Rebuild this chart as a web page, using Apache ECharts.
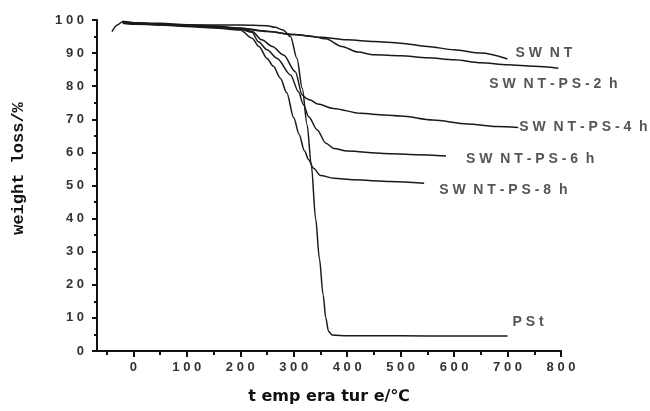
<!DOCTYPE html>
<html>
<head>
<meta charset="utf-8">
<script src="https://cdn.jsdelivr.net/npm/echarts@6/dist/echarts.min.js"></script>
<style>html,body{margin:0;padding:0;background:#fff}#c{width:650px;height:411px}</style>
</head>
<body>
<div id="c"></div>
<script>
// ---- data (temperature in °C, weight %) ----
const swntT  = [-40, -30, -20, 0, 50, 100, 150, 200, 250, 300, 350, 400, 450, 500, 550, 600, 650, 700];
const swntW  = [96.5, 98.5, 99.5, 99.2, 99.0, 98.6, 98.2, 97.6, 96.6, 95.6, 94.8, 94.0, 93.5, 93.0, 92.0, 91.0, 90.0, 88.2];

const ps2T = [-20, 0, 50, 100, 150, 200, 250, 300, 330, 360, 390, 420, 450, 500, 550, 600, 650, 700, 750, 795];
const ps2W = [99.3, 99.0, 98.7, 98.4, 98.0, 97.4, 96.5, 95.6, 95.2, 94.3, 92.0, 90.3, 89.5, 89.2, 88.6, 88.0, 87.1, 86.5, 86.0, 85.4];

const ps4T = [-20, 0, 50, 100, 150, 200, 222, 240, 260, 281, 303, 316, 324, 331, 345, 374, 425, 470, 500, 560, 625, 680, 720];
const ps4W = [99.5, 99.0, 98.6, 98.2, 97.8, 97.4, 96.6, 94.0, 92.0, 89.4, 84.4, 77.3, 76.3, 75.8, 74.6, 73.3, 71.8, 71.3, 71.0, 69.8, 68.6, 67.8, 67.5];

const ps6T = [-20, 0, 50, 100, 150, 200, 222, 234, 250, 269, 294, 309, 318, 328, 344, 360, 375, 400, 468, 530, 585];
const ps6W = [99.6, 99.2, 98.7, 98.3, 97.8, 97.2, 96.3, 93.4, 91.0, 88.4, 83.4, 78.3, 74.5, 70.8, 66.8, 62.8, 61.2, 60.4, 59.7, 59.3, 58.9];

const ps8T = [-20, 0, 50, 100, 150, 200, 222, 235, 250, 262, 275, 287, 300, 310, 320, 328, 337, 350, 375, 412, 481, 544];
const ps8W = [99.4, 99.0, 98.5, 98.0, 97.6, 97.0, 94.5, 92.0, 88.4, 86.0, 82.4, 78.0, 70.5, 65.5, 60.5, 57.8, 55.2, 53.0, 52.2, 51.7, 51.2, 50.7];

const pstT = [-20, 0, 50, 100, 150, 200, 250, 265, 280, 294, 306, 316, 325, 333, 341, 348, 355, 360, 365, 372, 400, 500, 600, 700];
const pstW = [99.0, 98.7, 98.6, 98.5, 98.5, 98.5, 98.3, 97.8, 97.0, 95.0, 88.4, 79.4, 68.3, 56.0, 40.0, 28.0, 17.0, 10.0, 6.0, 4.8, 4.6, 4.6, 4.5, 4.5];

const seriesNames = ['SWNT', 'SWNT-PS-2h', 'SWNT-PS-4h', 'SWNT-PS-6h', 'SWNT-PS-8h', 'PSt'];
const seriesLabels = ['S W  N T', 'S W  N T - P S - 2  h', 'S W  N T - P S - 4  h', 'S W  N T - P S - 6  h', 'S W  N T - P S - 8  h', 'P S t'];

const xMajorTicks = [0, 100, 200, 300, 400, 500, 600, 700, 800];
const xMinorTicks = [-50, 50, 150, 250, 350, 450, 550, 650, 750];

// ---- chart ----
const pairs = (t, w) => t.map((v, i) => [v, w[i]]);
const allData = [pairs(swntT, swntW), pairs(ps2T, ps2W), pairs(ps4T, ps4W), pairs(ps6T, ps6W), pairs(ps8T, ps8W), pairs(pstT, pstW)];
const labelOffsets = [[8, -6], [-69, 16], [1, 0], [20, 3], [15, 7], [5, -14]];

const spaced = v => String(v).split('').join(' ');
const tickFont = { fontFamily: 'Liberation Sans', fontWeight: 'bold', fontSize: 13, color: '#333' };

const chart = echarts.init(document.getElementById('c'), null, { renderer: 'canvas' });
chart.setOption({
  animation: false,
  backgroundColor: '#fff',
  grid: { left: 97, right: 89, top: 20, bottom: 60, containLabel: false },
  xAxis: [
    {
      type: 'value', min: -68, max: 800, position: 'bottom',
      name: 't emp era tur e/℃', nameLocation: 'middle', nameGap: 38,
      nameTextStyle: { fontFamily: 'DejaVu Sans', fontWeight: 'bold', fontSize: 16, color: '#111' },
      axisLine: { show: true, onZero: false, lineStyle: { color: '#111', width: 2 } },
      axisTick: { show: true, inside: false, length: 6, customValues: xMajorTicks, lineStyle: { color: '#111', width: 2 } },
      axisLabel: Object.assign({ show: true, margin: 10, customValues: xMajorTicks, formatter: spaced }, tickFont),
      splitLine: { show: false }
    },
    {
      type: 'value', min: -68, max: 800, position: 'bottom',
      axisLine: { show: false },
      axisTick: { show: true, inside: false, length: 4, customValues: xMinorTicks, lineStyle: { color: '#111', width: 2 } },
      axisLabel: { show: false },
      splitLine: { show: false }
    }
  ],
  yAxis: {
    type: 'value', min: 0, max: 100, interval: 10,
    name: 'weight loss/%', nameLocation: 'middle', nameGap: 70, nameRotate: 90,
    nameTextStyle: { fontFamily: 'Liberation Mono', fontWeight: 'bold', fontSize: 17, color: '#111', padding: [0, 0, 0, 34] },
    axisLine: { show: true, onZero: false, lineStyle: { color: '#111', width: 2 } },
    axisTick: { show: true, inside: false, length: 5, lineStyle: { color: '#111', width: 2 } },
    minorTick: { show: true, splitNumber: 2, length: 3, lineStyle: { color: '#111', width: 2 } },
    axisLabel: Object.assign({ margin: 13, formatter: spaced }, tickFont),
    splitLine: { show: false }
  },
  series: allData.map((d, i) => ({
    name: seriesNames[i],
    type: 'line',
    xAxisIndex: 0,
    data: d,
    showSymbol: false,
    smooth: 0.3,
    smoothMonotone: 'x',
    lineStyle: { color: '#1a1a1a', width: 1.5 },
    endLabel: {
      show: true,
      position: 'right',
      distance: 0,
      offset: labelOffsets[i],
      formatter: () => seriesLabels[i],
      fontFamily: 'Liberation Sans', fontWeight: 'bold', fontSize: 14, color: '#555'
    }
  }))
});
</script>
</body>
</html>
